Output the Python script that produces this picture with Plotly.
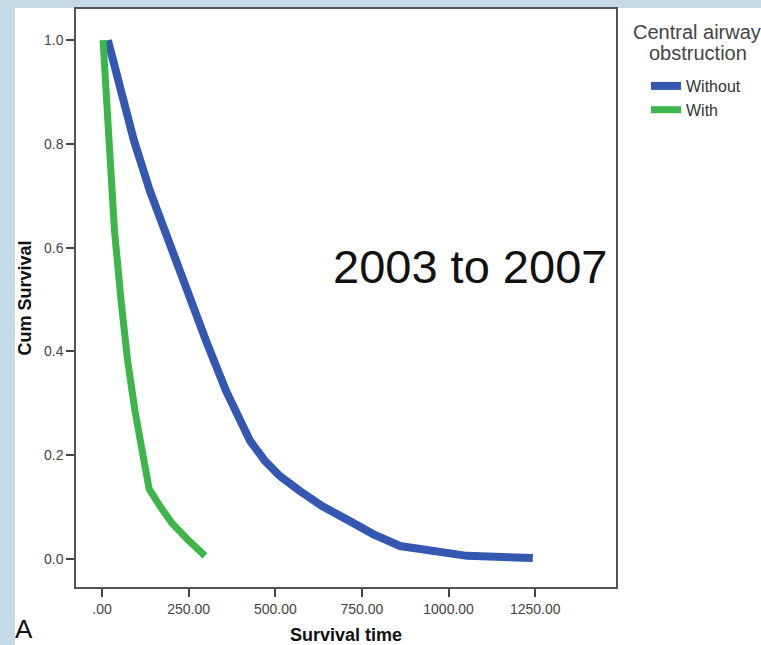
import plotly.graph_objects as go

# Survival data (time in days, cumulative survival)
without_time = [17, 55, 92, 138, 190, 245, 300, 358, 398, 427, 470, 513, 571, 635, 715, 782, 860, 955, 1053, 1243]
without_surv = [1.0, 0.903, 0.807, 0.710, 0.614, 0.517, 0.421, 0.324, 0.266, 0.228, 0.189, 0.160, 0.131,
                0.102, 0.073, 0.048, 0.025, 0.015, 0.006, 0.002]

with_time = [3, 17, 36, 55, 74, 95, 115, 136, 167, 202, 245, 297]
with_surv = [1.0, 0.826, 0.633, 0.498, 0.382, 0.286, 0.208, 0.135, 0.102, 0.069, 0.039, 0.006]

x_ticks = [0, 250, 500, 750, 1000, 1250]
x_tick_labels = [".00", "250.00", "500.00", "750.00", "1000.00", "1250.00"]
y_ticks = [0.0, 0.2, 0.4, 0.6, 0.8, 1.0]
y_tick_labels = ["0.0", "0.2", "0.4", "0.6", "0.8", "1.0"]

BLUE = "#3457b1"
GREEN = "#3cb54a"
BG_BLUE = "#c5dae6"
FONT = "Liberation Sans, Arial, sans-serif"

fig = go.Figure()
fig.add_trace(go.Scatter(x=without_time, y=without_surv, mode="lines", name="Without",
                         line=dict(color=BLUE, width=8)))
fig.add_trace(go.Scatter(x=with_time, y=with_surv, mode="lines", name="With",
                         line=dict(color=GREEN, width=7)))

axis_common = dict(showline=True, linecolor="#555555", linewidth=1.5, mirror=True,
                   ticks="outside", ticklen=8, tickwidth=1.5, tickcolor="#444444",
                   showgrid=False, zeroline=False, automargin=False,
                   tickfont=dict(family=FONT, size=14, color="#444444"))

L, R, T, B = 76, 145, 9, 58
W, H = 761, 645
pw, ph = W - L - R, H - T - B

def px_x(p):
    return (p - L) / pw

def px_y(p):
    return (H - B - p) / ph

fig.update_layout(
    width=W, height=H,
    margin=dict(l=L, r=R, t=T, b=B),
    paper_bgcolor="white",
    plot_bgcolor="white",
    font=dict(family=FONT, color="#333333"),
    xaxis=dict(range=[-75, 1483], tickvals=x_ticks, ticktext=x_tick_labels,
               title=dict(text="<b>Survival time</b>", font=dict(family=FONT, size=18, color="#111111"),
                          standoff=14),
               **axis_common),
    yaxis=dict(range=[-0.054, 1.06], tickvals=y_ticks, ticktext=y_tick_labels,
               title=dict(text="<b>Cum Survival</b>", font=dict(family=FONT, size=18, color="#111111"),
                          standoff=8),
               **axis_common),
    showlegend=True,
    legend=dict(x=px_x(646), xanchor="left", y=px_y(69), yanchor="top",
                bgcolor="rgba(0,0,0,0)", itemwidth=30,
                font=dict(family=FONT, size=16, color="#333333"),
                tracegroupgap=0),
    shapes=[
        dict(type="rect", xref="paper", yref="paper",
             x0=px_x(0), x1=px_x(15), y0=px_y(H), y1=px_y(0), fillcolor=BG_BLUE,
             line=dict(width=0), layer="below"),
        dict(type="rect", xref="paper", yref="paper",
             x0=px_x(0), x1=px_x(W), y0=px_y(8), y1=px_y(0), fillcolor=BG_BLUE,
             line=dict(width=0), layer="below"),
    ],
    annotations=[
        dict(text="Central airway", xref="paper", yref="paper",
             x=px_x(697), y=px_y(32), xanchor="center", yanchor="middle", showarrow=False,
             font=dict(family=FONT, size=20, color="#444444")),
        dict(text="obstruction", xref="paper", yref="paper",
             x=px_x(698), y=px_y(53), xanchor="center", yanchor="middle", showarrow=False,
             font=dict(family=FONT, size=20, color="#444444")),
        dict(text="2003 to 2007", xref="x", yref="y", x=1061, y=0.564,
             xanchor="center", yanchor="middle", showarrow=False,
             font=dict(family=FONT, size=47, color="#111111")),
        dict(text="A", xref="paper", yref="paper", x=px_x(14), y=px_y(645),
             xanchor="left", yanchor="bottom", showarrow=False, borderpad=0,
             font=dict(family=FONT, size=26, color="#111111")),
    ],
)

fig.write_html("out.html")
